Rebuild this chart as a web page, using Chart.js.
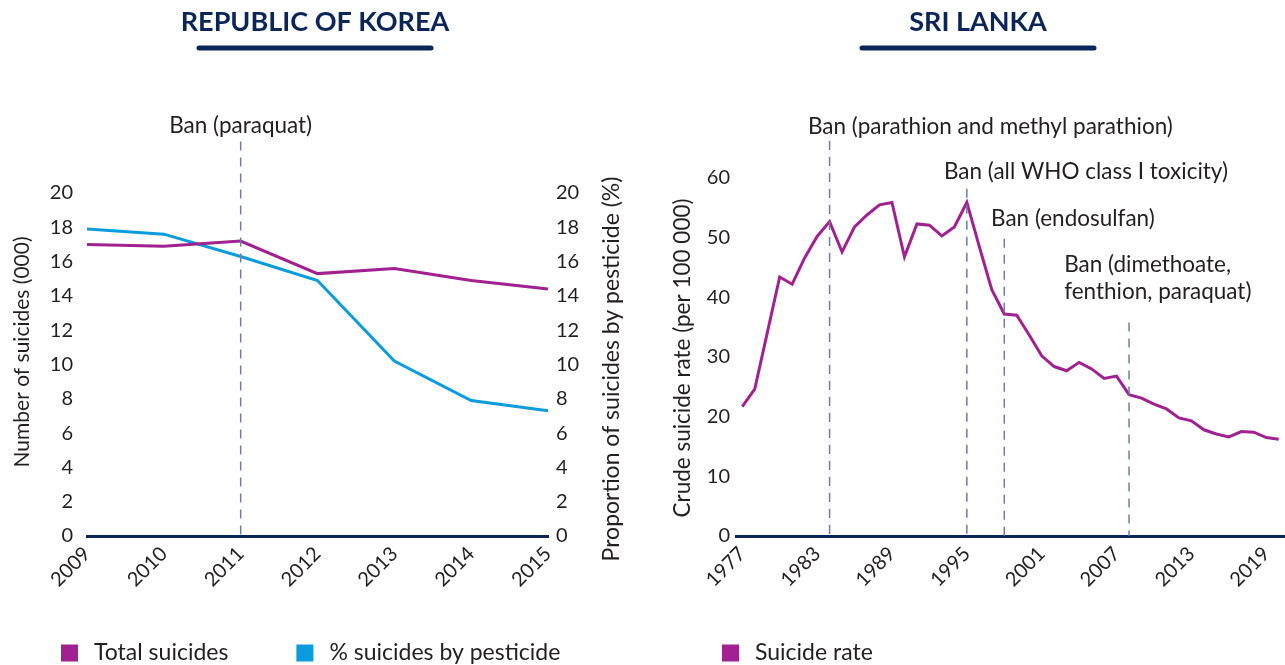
<!DOCTYPE html>
<html>
<head>
<meta charset="utf-8">
<script src="https://cdn.jsdelivr.net/npm/chart.js@4.4.1/dist/chart.umd.min.js"></script>
<style>
  html, body { margin: 0; padding: 0; background: #ffffff; }
  #wrap { position: relative; width: 1285px; height: 665px; overflow: hidden; }
  .panel { position: absolute; top: 0; height: 665px; }
  #korea { left: 0; width: 640px; }
  #lanka { left: 640px; width: 645px; }
</style>
</head>
<body>
<div id="wrap">
  <div class="panel" id="korea"><canvas id="koreaChart"></canvas></div>
  <div class="panel" id="lanka"><canvas id="lankaChart"></canvas></div>
</div>
<script>
// ---- Republic of Korea ----
const koreaYears = ['2009', '2010', '2011', '2012', '2013', '2014', '2015'];
const koreaTotalSuicides = [17.0, 16.9, 17.2, 15.3, 15.6, 14.9, 14.4];      // thousands
const koreaPesticideShare = [17.9, 17.6, 16.3, 14.9, 10.2, 7.9, 7.3];      // percent
const koreaBanYears = ['2011'];
const koreaBanTexts = [['Ban (paraquat)']];

// ---- Sri Lanka ----
const lankaYears = [
  '1977', '1978', '1979', '1980', '1981', '1982', '1983', '1984', '1985', '1986',
  '1987', '1988', '1989', '1990', '1991', '1992', '1993', '1994', '1995', '1996',
  '1997', '1998', '1999', '2000', '2001', '2002', '2003', '2004', '2005', '2006',
  '2007', '2008', '2009', '2010', '2011', '2012', '2013', '2014', '2015', '2016',
  '2017', '2018', '2019', '2020'
];
const lankaSuicideRate = [
  21.7, 24.6, 34.0, 43.4, 42.2, 46.6, 50.2, 52.7, 47.6, 51.8,
  53.8, 55.5, 55.9, 46.8, 52.3, 52.1, 50.3, 51.8, 55.9, 48.5,
  41.3, 37.2, 37.0, 33.7, 30.2, 28.4, 27.7, 29.1, 28.0, 26.4,
  26.8, 23.7, 23.1, 22.1, 21.3, 19.8, 19.3, 17.8, 17.1, 16.6,
  17.5, 17.4, 16.5, 16.2
];
const lankaTickYears = ['1977', '1983', '1989', '1995', '2001', '2007', '2013', '2019'];
const lankaBanYears = ['1984', '1995', '1998', '2008'];
const lankaBanTexts = [
  ['Ban (parathion and methyl parathion)'],
  ['Ban (all WHO class I toxicity)'],
  ['Ban (endosulfan)'],
  ['Ban (dimethoate,', 'fenthion, paraquat)']
];

const PURPLE = '#a0218f';
const BLUE = '#0a9cdc';
const NAVY = '#0b2559';
const INK = '#231f20';
const DASH = '#6c7fa2';
const FONT = 'Lato, "Noto Sans", sans-serif';

Chart.defaults.font.family = FONT;
Chart.defaults.color = INK;

// Panel heading with a rounded rule underneath
const panelTitle = {
  id: 'panelTitle',
  afterDraw(chart, args, opts) {
    const ctx = chart.ctx;
    ctx.save();
    ctx.fillStyle = opts.color;
    ctx.font = opts.font;
    ctx.textAlign = 'center';
    ctx.textBaseline = 'middle';
    ctx.fillText(opts.text, opts.x, opts.y);
    ctx.strokeStyle = opts.color;
    ctx.lineWidth = opts.ruleWidth;
    ctx.lineCap = 'round';
    ctx.beginPath();
    ctx.moveTo(opts.x - opts.ruleHalf, opts.ruleY);
    ctx.lineTo(opts.x + opts.ruleHalf, opts.ruleY);
    ctx.stroke();
    ctx.restore();
  }
};

// Dashed vertical markers for regulatory bans, with their captions
const banMarkers = {
  id: 'banMarkers',
  afterDatasetsDraw(chart, args, opts) {
    const {ctx, chartArea} = chart;
    const xs = chart.scales.x;
    const ys = chart.scales[opts.axis || 'y'];
    ctx.save();
    opts.years.forEach((year, i) => {
      const place = opts.places[i];
      const x = xs.getPixelForValue(chart.data.labels.indexOf(year));
      ctx.strokeStyle = opts.lineColor;
      ctx.lineWidth = 1.5;
      ctx.setLineDash([9, 7]);
      ctx.beginPath();
      ctx.moveTo(x, ys.getPixelForValue(place.lineTop));
      ctx.lineTo(x, chartArea.bottom);
      ctx.stroke();
      ctx.setLineDash([]);
      ctx.fillStyle = INK;
      ctx.font = opts.font;
      ctx.textBaseline = 'middle';
      ctx.textAlign = place.align;
      const tx = place.textX === undefined ? x : xs.getPixelForValue(place.textX);
      let ty = ys.getPixelForValue(place.textY);
      opts.texts[i].forEach(line => {
        ctx.fillText(line, tx, ty);
        ty += opts.lineGap;
      });
    });
    ctx.restore();
  }
};

// Square-swatch legend drawn along the bottom edge
const swatchLegend = {
  id: 'swatchLegend',
  afterDraw(chart, args, opts) {
    const ctx = chart.ctx;
    ctx.save();
    ctx.font = opts.font;
    ctx.textBaseline = 'middle';
    ctx.textAlign = 'left';
    let x = opts.x;
    chart.data.datasets.forEach(ds => {
      ctx.fillStyle = ds.borderColor;
      ctx.fillRect(x, opts.y - opts.box / 2, opts.box, opts.box);
      ctx.fillStyle = INK;
      const tx = x + opts.box + opts.textGap;
      ctx.fillText(ds.label, tx, opts.y);
      x = tx + ctx.measureText(ds.label).width + opts.itemGap;
    });
    ctx.restore();
  }
};

// Vertical axis titles, read bottom-to-top
const axisTitles = {
  id: 'axisTitles',
  afterDraw(chart, args, opts) {
    const ctx = chart.ctx;
    ctx.save();
    ctx.fillStyle = INK;
    ctx.textAlign = 'center';
    ctx.textBaseline = 'middle';
    (opts.items || []).forEach(item => {
      ctx.save();
      ctx.translate(item.x, item.y);
      ctx.rotate(-Math.PI / 2);
      ctx.font = item.font;
      ctx.fillText(item.text, 0, 0);
      ctx.restore();
    });
    ctx.restore();
  }
};

const tickFont = {size: 20};
const lineStyle = {borderWidth: 3, pointRadius: 0, tension: 0, fill: false};

new Chart(document.getElementById('koreaChart'), {
  type: 'line',
  data: {
    labels: koreaYears,
    datasets: [
      Object.assign({label: 'Total suicides', data: koreaTotalSuicides, borderColor: PURPLE, backgroundColor: PURPLE, yAxisID: 'y'}, lineStyle),
      Object.assign({label: '% suicides by pesticide', data: koreaPesticideShare, borderColor: BLUE, backgroundColor: BLUE, yAxisID: 'y1'}, lineStyle)
    ]
  },
  options: {
    responsive: true,
    maintainAspectRatio: false,
    animation: false,
    layout: {padding: {top: 193, bottom: 49, left: 0, right: 0}},
    plugins: {
      legend: {display: false},
      tooltip: {enabled: false},
      panelTitle: {text: 'REPUBLIC OF KOREA', x: 315, y: 22, ruleY: 48, ruleHalf: 116, ruleWidth: 5, color: NAVY, font: 'bold 27px ' + FONT},
      banMarkers: {years: koreaBanYears, texts: koreaBanTexts, lineColor: DASH, font: '22.5px ' + FONT, lineGap: 27,
        places: [{lineTop: 23.0, textY: 23.9, align: 'center'}]},
      swatchLegend: {x: 61, y: 653, box: 17, textGap: 16, itemGap: 68, font: '23px ' + FONT},
      axisTitles: {items: [
        {text: 'Number of suicides (000)', x: 22, y: 352, font: '21px ' + FONT},
        {text: 'Proportion of suicides by pesticide (%)', x: 612, y: 369, font: '23px ' + FONT}
      ]}
    },
    scales: {
      x: {
        grid: {display: false, drawTicks: false},
        border: {color: NAVY, width: 3},
        ticks: {font: tickFont, minRotation: 45, maxRotation: 45, padding: 6, autoSkip: false},
        afterFit(s) { s.height = 80; s.paddingLeft = 0; s.paddingRight = 0; }
      },
      y: {
        position: 'left', min: 0, max: 20,
        grid: {display: false, drawTicks: false},
        border: {display: false},
        ticks: {stepSize: 2, font: tickFont, padding: 14},
        afterFit(s) { s.width = 87; }
      },
      y1: {
        position: 'right', min: 0, max: 20,
        grid: {display: false, drawTicks: false},
        border: {display: false},
        ticks: {stepSize: 2, font: tickFont, padding: 8},
        afterFit(s) { s.width = 92; }
      }
    }
  },
  plugins: [panelTitle, banMarkers, swatchLegend, axisTitles]
});

new Chart(document.getElementById('lankaChart'), {
  type: 'line',
  data: {
    labels: lankaYears,
    datasets: [
      Object.assign({label: 'Suicide rate', data: lankaSuicideRate, borderColor: PURPLE, backgroundColor: PURPLE}, lineStyle)
    ]
  },
  options: {
    responsive: true,
    maintainAspectRatio: false,
    animation: false,
    layout: {padding: {top: 178, bottom: 49, left: 0, right: 0}},
    plugins: {
      legend: {display: false},
      tooltip: {enabled: false},
      panelTitle: {text: 'SRI LANKA', x: 338, y: 22, ruleY: 48, ruleHalf: 116, ruleWidth: 5, color: NAVY, font: 'bold 27px ' + FONT},
      banMarkers: {years: lankaBanYears, texts: lankaBanTexts, lineColor: DASH, font: '22.5px ' + FONT, lineGap: 27,
        places: [
          {lineTop: 66.2, textX: 5.27, textY: 68.6, align: 'left'},
          {lineTop: 58.2, textX: 16.17, textY: 61.0, align: 'left'},
          {lineTop: 49.8, textX: 19.94, textY: 53.1, align: 'left'},
          {lineTop: 35.8, textX: 25.8, textY: 45.5, align: 'left'}
        ]},
      swatchLegend: {x: 82, y: 653, box: 17, textGap: 16, itemGap: 68, font: '23px ' + FONT},
      axisTitles: {items: [
        {text: 'Crude suicide rate (per 100 000)', x: 43, y: 358, font: '22.5px ' + FONT}
      ]}
    },
    scales: {
      x: {
        offset: true,
        grid: {display: false, drawTicks: false},
        border: {color: NAVY, width: 3},
        ticks: {
          font: tickFont, minRotation: 45, maxRotation: 45, padding: 6, autoSkip: false,
          callback(value) {
            const year = this.getLabelForValue(value);
            return lankaTickYears.includes(year) ? year : '';
          }
        },
        afterFit(s) { s.height = 80; s.paddingLeft = 0; s.paddingRight = 0; }
      },
      y: {
        min: 0, max: 60,
        grid: {display: false, drawTicks: false},
        border: {display: false},
        ticks: {stepSize: 10, font: tickFont, padding: 6},
        afterFit(s) { s.width = 96; }
      }
    }
  },
  plugins: [panelTitle, banMarkers, swatchLegend, axisTitles]
});
</script>
</body>
</html>
